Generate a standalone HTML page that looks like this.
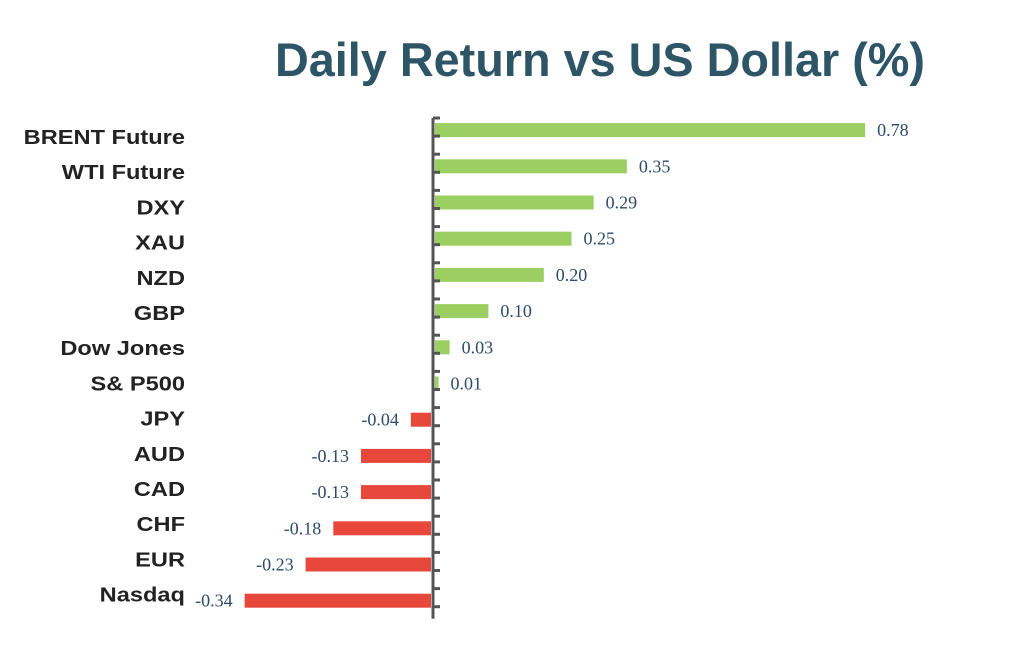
<!DOCTYPE html>
<html><head><meta charset="utf-8"><style>
html,body{margin:0;padding:0;background:#fff;width:1024px;height:645px;overflow:hidden}
</style></head><body>
<svg id="chart" width="1024" height="645" xmlns="http://www.w3.org/2000/svg">
<text x="275" y="76" textLength="650" lengthAdjust="spacingAndGlyphs" font-family="Liberation Sans, sans-serif" font-weight="bold" font-size="47" fill="#2d5566">Daily Return vs US Dollar (%)</text>
<g id="bars"></g>
</svg>
<script>
const categories = ["BRENT Future","WTI Future","DXY","XAU","NZD","GBP","Dow Jones","S& P500","JPY","AUD","CAD","CHF","EUR","Nasdaq"];
const values = [0.78,0.35,0.29,0.25,0.20,0.10,0.03,0.01,-0.04,-0.13,-0.13,-0.18,-0.23,-0.34];
const labels = ["0.78","0.35","0.29","0.25","0.20","0.10","0.03","0.01","-0.04","-0.13","-0.13","-0.18","-0.23","-0.34"];

const NS = "http://www.w3.org/2000/svg";
const g = document.getElementById('bars');
const x0 = 433, scale = 554;
const top0 = 112, step = 36.2;
function xPos(v){ return x0 + v*scale; }
function yCenter(i){ return top0 + step*(i+0.5); }
function labelY(i){ return 137 + i*35.2; }
function mk(tag, attrs){ const e=document.createElementNS(NS,tag); for(const k in attrs) e.setAttribute(k,attrs[k]); g.appendChild(e); return e; }

categories.forEach((c,i)=>{
  const v = values[i], yc = yCenter(i);
  const x1 = Math.min(xPos(0), xPos(v)), w = Math.abs(xPos(v)-xPos(0));
  const r = mk('rect',{x: v>=0 ? x1+2 : x1, y: yc-7, width: Math.max(w-2,1), height:14, fill: v>=0 ? '#9ccf62' : '#e8473b'});
  
  
  const t = mk('text',{x:185, y:labelY(i)+7, 'text-anchor':'end', 'font-family':'Liberation Sans, sans-serif', 'font-weight':'bold', 'font-size':'20', fill:'#222'});
  t.textContent = c;
  
  
  const len = t.getComputedTextLength();
  t.setAttribute('textLength', (len*1.18).toFixed(1));
  t.setAttribute('lengthAdjust', 'spacingAndGlyphs');
  const vl = mk('text',{x: v>=0 ? xPos(v)+12 : xPos(v)-12, y: yc+6, 'text-anchor': v>=0 ? 'start' : 'end', 'font-family':'Liberation Serif, serif', 'font-size':'18', fill:'#2e4a6b'});
  vl.textContent = labels[i];
  
  
});
const ax = mk('line',{x1:x0, y1:top0+6, x2:x0, y2:top0+step*categories.length, stroke:'#555', 'stroke-width':3});


for(let k=0;k<=categories.length*2;k++){
  const y = top0+6+k*step/2;
  if (y > top0+step*categories.length) break;
  const tk = mk('line',{x1:x0, y1:y, x2:x0+7, y2:y, stroke:'#555', 'stroke-width':3});
  
  
}
</script>
</body></html>
